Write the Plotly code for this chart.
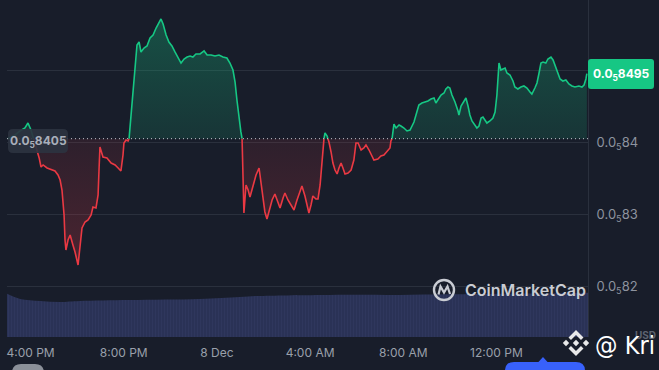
import numpy as np
import pandas as pd
import plotly.graph_objects as go

# ---------------- data ----------------
T0 = pd.Timestamp("2023-12-07 16:00")

hours_from_4pm = [
    -0.97, -0.67, -0.45, -0.24, -0.11, 0.02, 0.15, 0.28, 0.37, 0.45,
    0.54, 0.71, 0.92, 1.05, 1.18, 1.27, 1.35, 1.44, 1.48, 1.52,
    1.61, 1.70, 1.82, 1.91, 2.04, 2.12, 2.21, 2.34, 2.47, 2.60,
    2.68, 2.81, 2.90, 2.94, 2.98, 3.11, 3.28, 3.46, 3.63, 3.76,
    3.88, 3.97, 4.01, 4.10, 4.19, 4.23, 4.31, 4.40, 4.49, 4.57,
    4.66, 4.74, 4.87, 5.00, 5.13, 5.26, 5.39, 5.52, 5.60, 5.69,
    5.82, 5.94, 6.07, 6.20, 6.33, 6.46, 6.59, 6.72, 6.85, 6.97,
    7.10, 7.28, 7.45, 7.58, 7.75, 7.92, 8.09, 8.26, 8.43, 8.56,
    8.69, 8.78, 8.86, 8.95, 9.03, 9.08, 9.12, 9.16, 9.25, 9.34,
    9.42, 9.55, 9.68, 9.81, 9.89, 9.98, 10.06, 10.15, 10.24, 10.37,
    10.49, 10.58, 10.71, 10.84, 10.92, 11.05, 11.18, 11.31, 11.44, 11.57,
    11.65, 11.78, 11.87, 11.95, 12.04, 12.12, 12.25, 12.34, 12.43, 12.51,
    12.55, 12.64, 12.73, 12.81, 12.90, 12.98, 13.07, 13.16, 13.24, 13.33,
    13.41, 13.50, 13.63, 13.76, 13.88, 13.97, 14.06, 14.19, 14.31, 14.40,
    14.53, 14.66, 14.74, 14.91, 15.04, 15.17, 15.30, 15.43, 15.47, 15.52,
    15.60, 15.69, 15.82, 15.90, 16.03, 16.16, 16.29, 16.46, 16.59, 16.67,
    16.80, 16.93, 17.06, 17.19, 17.32, 17.40, 17.53, 17.62, 17.75, 17.83,
    17.92, 18.00, 18.09, 18.22, 18.35, 18.39, 18.48, 18.61, 18.69, 18.78,
    18.86, 18.95, 19.08, 19.16, 19.25, 19.34, 19.42, 19.51, 19.59, 19.72,
    19.85, 19.94, 20.02, 20.11, 20.19, 20.28, 20.37, 20.45, 20.58, 20.71,
    20.79, 20.92, 21.05, 21.18, 21.31, 21.44, 21.52, 21.65, 21.74, 21.82,
    21.91, 22.00, 22.12, 22.21, 22.34, 22.43, 22.51, 22.60, 22.73, 22.85,
    22.98, 23.11, 23.24, 23.37, 23.54, 23.67, 23.76, 23.84, 23.88,
]

# price in units of 0.000001 USD
price_micro = [
    8.4050, 8.4101, 8.4157, 8.4198, 8.4267, 8.4170, 8.4032, 8.3893, 8.3783, 8.3658,
    8.3686, 8.3644, 8.3616, 8.3603, 8.3547, 8.3478, 8.3339, 8.2993, 8.2647, 8.2508,
    8.2647, 8.2716, 8.2578, 8.2481, 8.2301, 8.2578, 8.2813, 8.2896, 8.2924, 8.2993,
    8.3104, 8.3090, 8.3270, 8.3616, 8.3935, 8.3796, 8.3783, 8.3713, 8.3686, 8.3644,
    8.3603, 8.3824, 8.3990, 8.4032, 8.4018, 8.4050, 8.4378, 8.4724, 8.5112, 8.5348,
    8.5389, 8.5251, 8.5306, 8.5334, 8.5445, 8.5486, 8.5583, 8.5666, 8.5708, 8.5638,
    8.5486, 8.5389, 8.5334, 8.5251, 8.5168, 8.5098, 8.5154, 8.5181, 8.5195, 8.5181,
    8.5223, 8.5223, 8.5265, 8.5209, 8.5209, 8.5195, 8.5209, 8.5181, 8.5168, 8.5098,
    8.5001, 8.4835, 8.4586, 8.4309, 8.4143, 8.4050, 8.3547, 8.3021, 8.3409, 8.3339,
    8.3242, 8.3409, 8.3547, 8.3644, 8.3450, 8.3270, 8.3035, 8.2938, 8.3062, 8.3201,
    8.3284, 8.3201, 8.3090, 8.3229, 8.3298, 8.3201, 8.3132, 8.3062, 8.3201, 8.3339,
    8.3395, 8.3256, 8.3132, 8.3021, 8.3132, 8.3256, 8.3215, 8.3215, 8.3409, 8.3755,
    8.3963, 8.4129, 8.4087, 8.4004, 8.3866, 8.3713, 8.3616, 8.3561, 8.3644, 8.3713,
    8.3644, 8.3561, 8.3575, 8.3616, 8.3755, 8.3990, 8.3990, 8.3893, 8.3921, 8.3963,
    8.3893, 8.3796, 8.3755, 8.3769, 8.3810, 8.3824, 8.3866, 8.3921, 8.4018, 8.4050,
    8.4253, 8.4198, 8.4240, 8.4226, 8.4198, 8.4157, 8.4170, 8.4281, 8.4420, 8.4517,
    8.4544, 8.4558, 8.4572, 8.4600, 8.4614, 8.4544, 8.4600, 8.4655, 8.4683, 8.4738,
    8.4766, 8.4752, 8.4655, 8.4558, 8.4434, 8.4378, 8.4503, 8.4586, 8.4614, 8.4503,
    8.4378, 8.4295, 8.4240, 8.4198, 8.4226, 8.4337, 8.4350, 8.4309, 8.4267, 8.4295,
    8.4337, 8.4420, 8.4655, 8.5098, 8.5001, 8.5015, 8.5029, 8.4960, 8.4932, 8.4849,
    8.4766, 8.4738, 8.4766, 8.4780, 8.4752, 8.4697, 8.4669, 8.4752, 8.4821, 8.4946,
    8.5098, 8.5112, 8.5098, 8.5154, 8.5181, 8.5140, 8.5071, 8.4974, 8.4877, 8.4849,
    8.4863, 8.4807, 8.4780, 8.4766, 8.4780, 8.4766, 8.4794, 8.4877, 8.4950,
]

BASE_MICRO = 8.405   # reference (open) price 0.0_5 8405
LAST_MICRO = 8.495   # last price 0.0_5 8495

vol_hours = [-1.01, -0.45, 0.41, 1.27, 2.12, 4.27, 7.27, 8.99, 9.85, 12.85, 15.86, 20.15, 23.93]
volume_musd = [1.28, 1.13, 1.07, 1.04, 1.07, 1.10, 1.13, 1.19, 1.22, 1.25, 1.25, 1.28, 1.31]

y_ticks_micro = [8.2, 8.3, 8.4, 8.5]
y_tick_text = ["0.0<sub>5</sub>82", "0.0<sub>5</sub>83", "0.0<sub>5</sub>84", ""]
x_tick_hours = [0, 4, 8, 12, 16, 20]
x_tick_text = ["4:00 PM", "8:00 PM", "8 Dec", "4:00 AM", "8:00 AM", "12:00 PM"]

assert len(hours_from_4pm) == len(price_micro), (len(hours_from_4pm), len(price_micro))

# ---------------- style ----------------
BG = "#181d2a"
GRID = "#2a303d"
GREEN = "#16c784"
RED = "#ea3943"
MICRO = 1e-6
W, H = 659, 370
ML, MR, MT, MB = 7, 71, 0, 33
PW, PH = W - ML - MR, H - MT - MB


def to_time(h):
    return T0 + pd.to_timedelta(h, unit="h")


base = BASE_MICRO * MICRO

# ---------------- split into above / below segments ----------------
pts = [(h, p * MICRO) for h, p in zip(hours_from_4pm, price_micro)]


def sgn(v):
    eps = 1e-13
    return 1 if v > base + eps else (-1 if v < base - eps else 0)


segments = []
cur = [pts[0]]
cur_sign = sgn(pts[0][1])
for q in pts[1:]:
    prev = cur[-1]
    sp, sq = sgn(prev[1]), sgn(q[1])
    if sp != 0 and sq != 0 and sp != sq:
        frac = (base - prev[1]) / (q[1] - prev[1])
        cross = (prev[0] + frac * (q[0] - prev[0]), base)
        cur.append(cross)
        segments.append((cur_sign, cur))
        cur = [cross, q]
        cur_sign = sq
    elif sq == 0:
        cur.append(q)
    else:
        if cur_sign == 0:
            cur_sign = sq
            cur.append(q)
        elif sq != cur_sign:
            segments.append((cur_sign, cur))
            cur = [prev, q]
            cur_sign = sq
        else:
            cur.append(q)
segments.append((cur_sign, cur))

fig = go.Figure()

# volume area
fig.add_trace(go.Scatter(
    x=[to_time(h) for h in vol_hours], y=volume_musd, yaxis="y2",
    mode="lines", line=dict(width=0, color="#2c3458", shape="spline"),
    fill="tozeroy", fillcolor="#2a3256",
    fillpattern=dict(shape="|", fgcolor="#333c64", bgcolor="#2a3256", size=3, solidity=0.35),
    hoverinfo="skip",
))

pmax = max(p for _, p in pts)
pmin = min(p for _, p in pts)
for s, seg in segments:
    xs = [to_time(h) for h, _ in seg]
    ys = [v for _, v in seg]
    if s >= 0:
        col = GREEN
        grad = dict(type="vertical", start=base, stop=pmax,
                    colorscale=[[0, "rgba(22,199,132,0.14)"], [1, "rgba(22,199,132,0.30)"]])
    else:
        col = RED
        grad = dict(type="vertical", start=base, stop=pmin,
                    colorscale=[[0, "rgba(234,57,67,0.10)"], [1, "rgba(234,57,67,0.24)"]])
    fig.add_trace(go.Scatter(
        x=xs + [xs[-1], xs[0]], y=ys + [base, base], mode="lines",
        line=dict(width=0), fill="toself", fillgradient=grad, hoverinfo="skip",
    ))
    fig.add_trace(go.Scatter(
        x=xs, y=ys, mode="lines", line=dict(color=col, width=1.6),
        hoverinfo="skip",
    ))

# ---------------- decorations (pixel -> paper helpers) ----------------

def PX(x):
    return (x - ML) / PW


def PY(y):
    return (H - MB - y) / PH


def pt(x, y):
    return f"{PX(x):.5f},{PY(y):.5f}"


def rrect(x0, y0, x1, y1, r):
    return (f"M {pt(x0 + r, y0)} L {pt(x1 - r, y0)} Q {pt(x1, y0)} {pt(x1, y0 + r)} "
            f"L {pt(x1, y1 - r)} Q {pt(x1, y1)} {pt(x1 - r, y1)} L {pt(x0 + r, y1)} "
            f"Q {pt(x0, y1)} {pt(x0, y1 - r)} L {pt(x0, y0 + r)} Q {pt(x0, y0)} {pt(x0 + r, y0)} Z")


def poly(points):
    return "M " + " L ".join(pt(x, y) for x, y in points) + " Z"


shapes = []
# dotted reference line at open price
shapes.append(dict(type="line", xref="paper", x0=0, x1=1, yref="y", y0=base, y1=base,
                   line=dict(color="#c3c7cf", width=1, dash="1px,3px"), layer="above"))
# left open-price label box
shapes.append(dict(type="path", xref="paper", yref="paper", path=rrect(8, 129, 68, 153, 5),
                   fillcolor="rgba(45,51,64,0.92)", line=dict(width=0), layer="above"))
# right last-price box
shapes.append(dict(type="path", xref="paper", yref="paper", path=rrect(588, 59, 654, 89, 3),
                   fillcolor=GREEN, line=dict(width=0), layer="above"))
# CoinMarketCap logo
shapes.append(dict(type="circle", xref="paper", yref="paper",
                   x0=PX(434), x1=PX(454), y0=PY(300), y1=PY(280),
                   line=dict(color="#c9ccd3", width=2.4), layer="above"))
shapes.append(dict(type="path", xref="paper", yref="paper",
                   path=("M " + pt(438.5, 294.5) + " L " + pt(440.5, 286.5) + " L " + pt(444, 292.5)
                         + " L " + pt(447.5, 286.5) + " L " + pt(450, 294)),
                   line=dict(color="#c9ccd3", width=2.2), layer="above"))
# Binance-like logo
LOGO = "#e9e9ea"
cx, cy = 576, 343
for dx in (-10, 0, 10):
    shapes.append(dict(type="path", xref="paper", yref="paper",
                       path=poly([(cx + dx, cy - 3.2), (cx + dx + 3.2, cy), (cx + dx, cy + 3.2), (cx + dx - 3.2, cy)]),
                       fillcolor=LOGO, line=dict(width=0), layer="above"))
shapes.append(dict(type="path", xref="paper", yref="paper",
                   path=poly([(cx, 330), (cx + 7.5, 337.5), (cx + 5, 340), (cx, 335), (cx - 5, 340), (cx - 7.5, 337.5)]),
                   fillcolor=LOGO, line=dict(width=0), layer="above"))
shapes.append(dict(type="path", xref="paper", yref="paper",
                   path=poly([(cx, 356), (cx + 7.5, 348.5), (cx + 5, 346), (cx, 351), (cx - 5, 346), (cx - 7.5, 348.5)]),
                   fillcolor=LOGO, line=dict(width=0), layer="above"))
# bottom UI pills
shapes.append(dict(type="path", xref="paper", yref="paper", path=rrect(12, 364, 44, 384, 9),
                   fillcolor="#8b9099", line=dict(width=0), layer="above"))
shapes.append(dict(type="path", xref="paper", yref="paper", path=rrect(505, 362, 585, 384, 9),
                   fillcolor="#3861fb", line=dict(width=0), layer="above"))
shapes.append(dict(type="path", xref="paper", yref="paper", path=poly([(538, 362.5), (543, 357), (548, 362.5)]),
                   fillcolor="#3861fb", line=dict(width=0), layer="above"))

annotations = [
    dict(xref="paper", yref="paper", x=PX(38), y=PY(141), text="<b>0.0<sub>5</sub>8405</b>",
         showarrow=False, xanchor="center", yanchor="middle",
         font=dict(family="Inter, Roboto, sans-serif", size=12, color="#a9afba")),
    dict(xref="paper", yref="paper", x=PX(621), y=PY(74), text="<b>0.0<sub>5</sub>8495</b>",
         showarrow=False, xanchor="center", yanchor="middle",
         font=dict(family="Inter, Roboto, sans-serif", size=12, color="#ffffff")),
    dict(xref="paper", yref="paper", x=PX(463), y=PY(290), text="CoinMarketCap",
         showarrow=False, xanchor="left", yanchor="middle",
         font=dict(family="Inter, Roboto, sans-serif", size=16, color="#c9ccd3", weight=600)),
    dict(xref="paper", yref="paper", x=PX(645), y=PY(335), text="<b>USD</b>",
         showarrow=False, xanchor="center", yanchor="middle",
         font=dict(family="Inter, Roboto, sans-serif", size=10, color="#5d6471")),
    dict(xref="paper", yref="paper", x=PX(593), y=PY(345), text="@ Kri",
         showarrow=False, xanchor="left", yanchor="middle",
         font=dict(family="Liberation Sans Narrow, DejaVu Sans Condensed, sans-serif", size=25, color="#ffffff")),
]

fig.update_layout(
    width=W, height=H,
    margin=dict(l=ML, r=MR, t=MT, b=MB),
    paper_bgcolor=BG, plot_bgcolor=BG,
    showlegend=False, hovermode=False,
    font=dict(family="Inter, Roboto, sans-serif", size=12, color="#959ba7"),
    xaxis=dict(type="date", range=[to_time(-1.01), to_time(23.93)],
               tickvals=[to_time(h) for h in x_tick_hours], ticktext=x_tick_text,
               showgrid=False, zeroline=False, showline=False, ticks="",
               ticklabelstandoff=7, tickfont=dict(size=12, color="#9aa0ab")),
    yaxis=dict(side="right", range=[8.1303 * MICRO, 8.5971 * MICRO],
               tickvals=[v * MICRO for v in y_ticks_micro], ticktext=y_tick_text,
               showgrid=True, gridcolor=GRID, gridwidth=1, zeroline=False,
               showline=True, linecolor=GRID, linewidth=1, ticks="",
               ticklabelstandoff=5, tickfont=dict(size=13, color="#8d939f")),
    yaxis2=dict(overlaying="y", range=[0, 10], visible=False, fixedrange=True),
    shapes=shapes, annotations=annotations,
)

fig.write_html(
    "out.html",
    config={"displayModeBar": False},
    post_script="document.body.style.margin='0';document.body.style.background='" + BG + "';",
)
